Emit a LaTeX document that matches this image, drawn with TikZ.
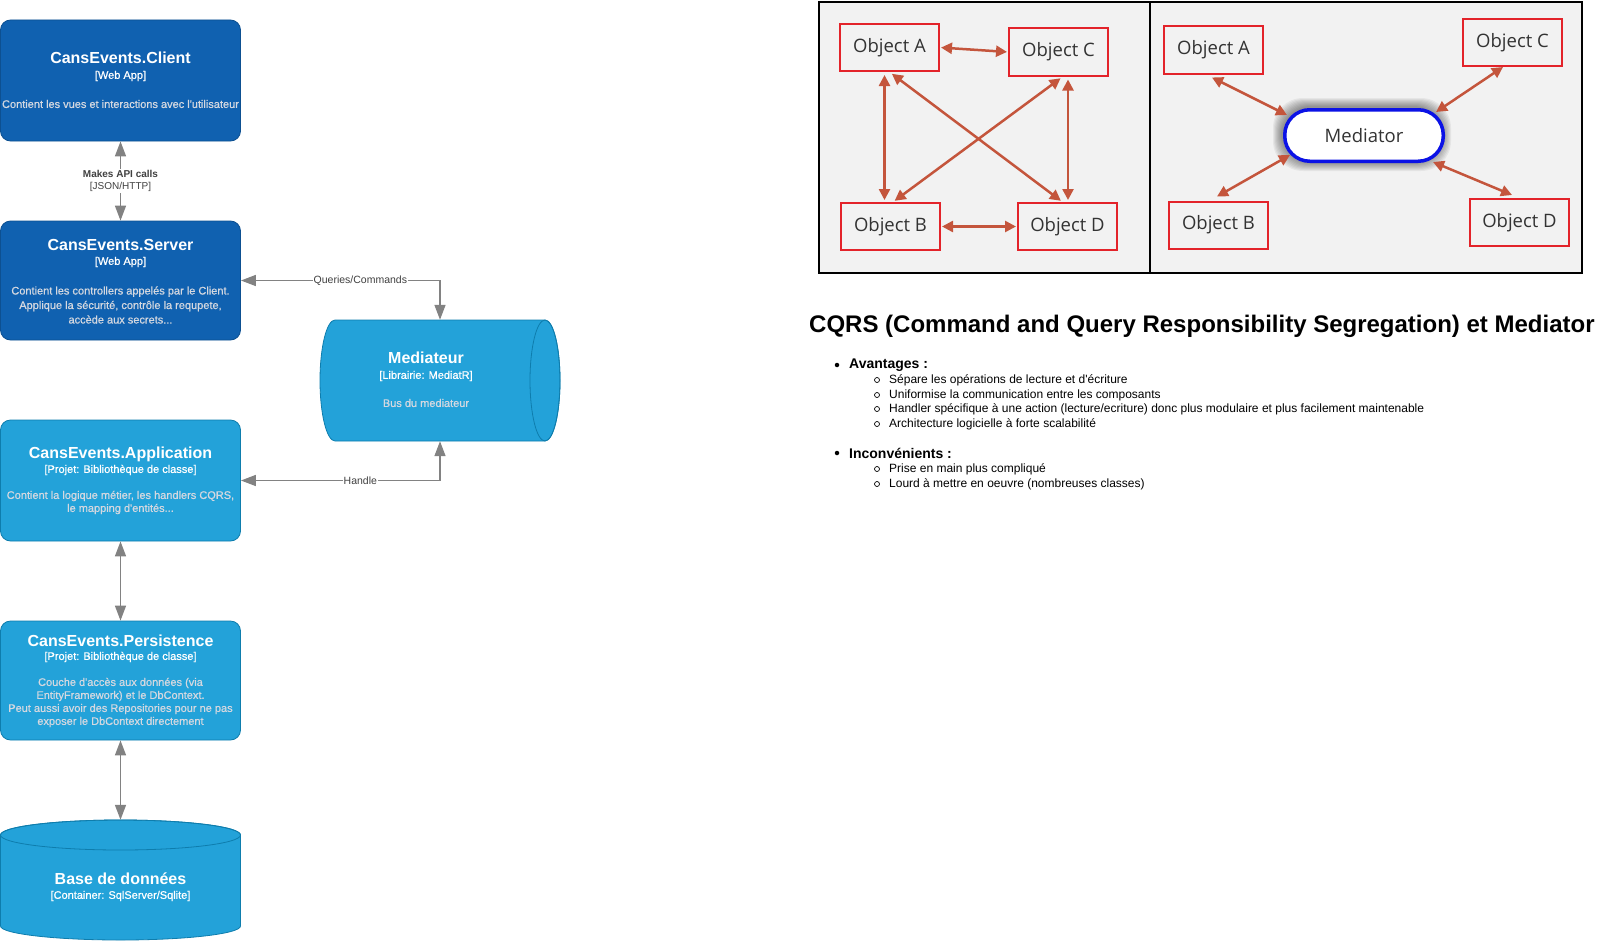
\documentclass[tikz,border=0pt]{standalone}
\usepackage{fontspec}
\newfontfamily\lsans{Liberation Sans}
\newfontfamily\lsansfb{Liberation Sans}[FakeBold=0.7]
\newfontfamily\osans{Open Sans}
\usetikzlibrary{arrows.meta}
\definecolor{dkblue}{HTML}{1061B0}
\definecolor{dkblueb}{HTML}{0D5091}
\definecolor{ltblue}{HTML}{23A2D9}
\definecolor{ltblueb}{HTML}{0E7DAD}
\definecolor{edgegray}{HTML}{828282}
\definecolor{desccol}{HTML}{D4D8E0}
\definecolor{lblcol}{HTML}{404040}
\definecolor{objred}{HTML}{E3232A}
\definecolor{arrred}{HTML}{C4553C}
\definecolor{panelbg}{HTML}{F2F2F2}
\definecolor{medblue}{HTML}{0B12E6}
\definecolor{objtxt}{HTML}{333333}
\tikzset{
  c4dark/.style={draw=dkblueb, fill=dkblue, line width=0.8pt, rounded corners=10pt, minimum width=240pt},
  c4light/.style={draw=ltblueb, fill=ltblue, line width=0.8pt, rounded corners=10pt, minimum width=240pt},
  ttl/.style={font=\lsans\bfseries\fontsize{16}{19}\selectfont, text=white},
  subt/.style={font=\lsansfb\fontsize{11}{13}\selectfont, text=white},
  dsc/.style={font=\lsansfb\fontsize{11}{13}\selectfont, text=desccol, align=center},
  conn/.style={draw=edgegray, line width=1.5pt, {Triangle[length=15pt,width=11pt]}-{Triangle[length=15pt,width=11pt]}},
  elbl/.style={font=\lsans\fontsize{10.5}{12}\selectfont, text=lblcol, fill=white, inner sep=1pt},
  objbox/.style={draw=objred, line width=2pt, fill=panelbg, minimum width=99pt, minimum height=47pt, font=\osans\fontsize{18.5}{22}\selectfont, text=objtxt},
  redarr/.style={draw=arrred, line width=2.5pt, {Triangle[length=11pt,width=11pt]}-{Triangle[length=11pt,width=11pt]}},
  hdr/.style={anchor=west, font=\lsans\bfseries\fontsize{14}{16}\selectfont},
  itm/.style={anchor=west, font=\lsans\fontsize{12}{14}\selectfont},
  hollow/.style={circle, draw, line width=0.7pt, minimum size=5pt},
  solid dot/.style={circle, fill=black, minimum size=4.5pt},
}
\begin{document}
\begin{tikzpicture}[x=1pt,y=-1pt, every node/.style={inner sep=0pt}]
\useasboundingbox (0,0) rectangle (1608,942);

% ---------- left C4 column ----------
\node[c4dark, minimum height=121pt] (client) at (120.5,80.5) {};
\node[ttl] (clientT) at (120.5,58) {CansEvents.Client};
\node[subt] (clientS) at (120.5,76) {[Web App]};
\node[dsc] (clientD) at (120.5,104) {Contient les vues et interactions avec l'utilisateur};

\node[c4dark, minimum height=119pt] (server) at (120.5,280.5) {};
\node[ttl] (serverT) at (120.5,245) {CansEvents.Server};
\node[subt] (serverS) at (120.5,262) {[Web App]};
\node[dsc, font=\lsansfb\fontsize{11}{14.5}\selectfont] (serverD) at (120.5,305) {Contient les controllers appelés par le Client.\\Applique la sécurité, contrôle la requpete,\\accède aux secrets...};

\node[c4light, minimum height=121pt] (app) at (120.5,480.5) {};
\node[ttl] (appT) at (120.5,454) {CansEvents.Application};
\node[subt] (appS) at (120.5,470) {[Projet: Bibliothèque de classe]};
\node[dsc] (appD) at (120.5,502.5) {Contient la logique métier, les handlers CQRS,\\le mapping d'entités...};

\node[c4light, minimum height=119pt] (pers) at (120.5,680.5) {};
\node[ttl] (persT) at (120.5,641) {CansEvents.Persistence};
\node[subt] (persS) at (120.5,657) {[Projet: Bibliothèque de classe]};
\node[dsc] (persD) at (120.5,702.5) {Couche d'accès aux données (via\\EntityFramework) et le DbContext.\\Peut aussi avoir des Repositories pour ne pas\\exposer le DbContext directement};

% database cylinder
\filldraw[draw=ltblueb, fill=ltblue, line width=0.8pt] (0.5,835) -- (0.5,926) arc[start angle=180, end angle=0, x radius=120, y radius=14] -- (240.5,835) arc[start angle=0, end angle=-180, x radius=120, y radius=15] -- cycle;
\draw[draw=ltblueb, line width=0.8pt] (120.5,835) ellipse [x radius=120, y radius=15];
\node (db) at (120.5,880) [minimum width=240pt, minimum height=120pt] {};
\node[ttl] (dbT) at (120.5,879) {Base de données};
\node[subt] (dbS) at (120.5,896) {[Container: SqlServer/Sqlite]};

% mediateur horizontal cylinder
\filldraw[draw=ltblueb, fill=ltblue, line width=0.8pt] (335,320) -- (545,320) arc[start angle=-90, end angle=90, x radius=15, y radius=60.5] -- (335,441) arc[start angle=90, end angle=270, x radius=15, y radius=60.5] -- cycle;
\draw[draw=ltblueb, line width=0.8pt] (545,380.5) ellipse [x radius=15, y radius=60.5];
\node (med) at (440,380.5) [minimum width=240pt, minimum height=121pt] {};
\node[ttl] (medT) at (426,358) {Mediateur};
\node[subt] (medS) at (426,376) {[Librairie: MediatR]};
\node[dsc] (medD) at (426,403) {Bus du mediateur};

% connectors
\draw[conn] (client.south) -- (server.north);
\node[elbl, align=center] (apilbl) at (120.5,181) {{\bfseries\fontsize{10}{12}\selectfont Makes API calls}\\{\fontsize{10}{12}\selectfont [JSON/HTTP]}};
\draw[conn] (server.east) -| (med.north) node[elbl, pos=0.3] (qclbl) {Queries/Commands};
\draw[conn] (app.east) -| (med.south) node[elbl, pos=0.3] (hlbl) {Handle};
\draw[conn] (app.south) -- (pers.north);
\draw[conn] (pers.south) -- (db.north);

% ---------- right image ----------
\draw[line width=2pt, fill=panelbg] (819,2) rectangle (1582,273);
\draw[line width=2pt] (1150,2) -- (1150,273);

\node[objbox] (oA) at (889.5,47.5) {Object A};
\node[objbox] (oC) at (1058.5,52) {Object C};
\node[objbox] (oB) at (890.5,226.5) {Object B};
\node[objbox] (oD) at (1067.5,226.5) {Object D};
\draw[redarr, shorten <=1pt, shorten >=1pt] (oA.east) -- (oC.west);
\draw[redarr, shorten <=1pt, shorten >=1pt] (oB.east) -- (oD.west);
\draw[redarr, shorten <=3pt, shorten >=2pt] ([xshift=-5pt]oA.south) -- ([xshift=-6pt]oB.north);
\draw[redarr, shorten <=3pt, shorten >=2pt] ([xshift=9.5pt]oC.south) -- ([xshift=0.5pt]oD.north);
\draw[redarr, shorten <=3pt, shorten >=2pt] (oA.south) -- ([xshift=-5pt]oD.north);
\draw[redarr, shorten <=3pt, shorten >=2pt] ([xshift=4.5pt]oC.south) -- ([xshift=2.5pt]oB.north);

\node[objbox] (rA) at (1213.5,50) {Object A};
\node[objbox] (rC) at (1512.5,42.5) {Object C};
\node[objbox] (rB) at (1218.5,225) {Object B};
\node[objbox] (rD) at (1519.5,222.5) {Object D};
\foreach \i in {1,...,9} {
  \fill[black, opacity=0.05, rounded corners=30pt] (1282-\i,107-\i) rectangle (1442+\i,162+\i);
}
\node[draw=medblue, line width=3.5pt, fill=white, rounded corners=25pt, minimum width=158.5pt, minimum height=51.5pt, font=\osans\fontsize{18.5}{22}\selectfont, text=objtxt] (rmed) at (1364,135.5) {Mediator};
\draw[redarr] ([xshift=-1.5pt,yshift=-3pt]rA.south) -- ([xshift=4pt,yshift=-7pt]rmed.north west);
\draw[redarr] ([xshift=-9.5pt]rC.south) -- ([xshift=-9pt,yshift=-4pt]rmed.north east);
\draw[redarr] ([xshift=-1.5pt,yshift=4pt]rB.north) -- ([xshift=7pt,yshift=8pt]rmed.south west);
\draw[redarr] ([xshift=-7.5pt,yshift=3pt]rD.north) -- ([xshift=-12pt,yshift=1pt]rmed.south east);

% ---------- text section ----------
\node[anchor=west, font=\lsans\bfseries\fontsize{24}{28}\selectfont] (title) at (809,326) {CQRS (Command and Query Responsibility Segregation) et Mediator};
\node[solid dot] (b1) at (837,365) {};
\node[hdr] (h1) at (849,365) {Avantages :};
\node[hollow] (c1) at (877,380) {};
\node[itm] (i1) at (889,380) {Sépare les opérations de lecture et d'écriture};
\node[hollow] (c2) at (877,395) {};
\node[itm] (i2) at (889,395) {Uniformise la communication entre les composants};
\node[hollow] (c3) at (877,409) {};
\node[itm] (i3) at (889,409) {Handler spécifique à une action (lecture/ecriture) donc plus modulaire et plus facilement maintenable};
\node[hollow] (c4) at (877,424) {};
\node[itm] (i4) at (889,424) {Architecture logicielle à forte scalabilité};
\node[solid dot] (b2) at (837,453) {};
\node[hdr] (h2) at (849,453) {Inconvénients :};
\node[hollow] (c5) at (877,469) {};
\node[itm] (i5) at (889,469) {Prise en main plus compliqué};
\node[hollow] (c6) at (877,484) {};
\node[itm] (i6) at (889,484) {Lourd à mettre en oeuvre (nombreuses classes)};
\end{tikzpicture}
\end{document}
